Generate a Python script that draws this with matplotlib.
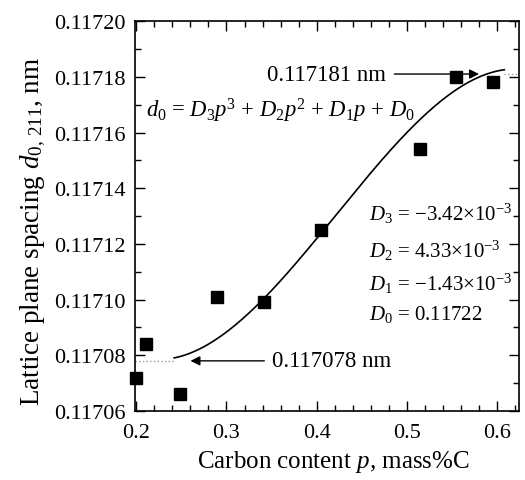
import matplotlib
matplotlib.use('Agg')
import matplotlib.pyplot as plt
import numpy as np

plt.rcParams['font.family'] = ['Liberation Serif', 'DejaVu Serif']
plt.rcParams['mathtext.fontset'] = 'custom'
plt.rcParams['mathtext.rm'] = 'Liberation Serif'
plt.rcParams['mathtext.it'] = 'Liberation Serif:italic'
plt.rcParams['font.size'] = 16

# measured points (carbon content, lattice spacing)
carbon = [0.200, 0.211, 0.248, 0.290, 0.342, 0.405, 0.514, 0.554, 0.595]
spacing = [0.117072, 0.117084, 0.117066, 0.117101, 0.117099,
           0.117125, 0.117154, 0.117180, 0.117178]

# fit coefficients shown on the chart
coefs = [-3.42e-3, 4.33e-3, -1.43e-3, 0.11722]
p_low, p_high = 0.242, 0.608
d_low, d_high = 0.117078, 0.117181

fig = plt.figure(figsize=(5.25, 4.81), dpi=100)
ax = fig.add_axes([0.257, 0.1435, 0.732, 0.8105])

# fitted cubic, solid in the fitted range
p = np.linspace(p_low, p_high, 200)
ax.plot(p, np.polyval(coefs, p), color='k', lw=1.2, zorder=3)
# plateau continuation, dotted
ax.plot([0.1985, p_low], [d_low, d_low], color='#999999', lw=1.0, ls=':')
ax.plot([p_high, 0.6245], [d_high, d_high], color='#999999', lw=1.0, ls=':')

ax.plot(carbon, spacing, 's', color='k', ms=8.5, zorder=4, clip_on=False)

ax.set_xlim(0.1985, 0.6245)
ax.set_ylim(0.11706, 0.11720)
yt = np.arange(0.11706, 0.117201, 0.00002)
ax.set_xticks([0.2, 0.3, 0.4, 0.5, 0.6])
ax.set_xticklabels(['0.2', '0.3', '0.4', '0.5', '0.6'])
ax.set_yticks(yt)
ax.set_yticklabels(['%.5f' % v for v in yt])
ax.set_xticks(np.arange(0.2, 0.625, 0.02), minor=True)
ax.set_yticks(np.arange(0.11706, 0.117201, 0.00001), minor=True)
ax.tick_params(which='both', direction='in', top=True, right=True)
ax.tick_params(which='major', length=7, width=1.0)
ax.tick_params(which='minor', length=4, width=1.0)
ax.tick_params(axis='x', pad=9)
ax.tick_params(axis='y', pad=7)
for s in ax.spines.values():
    s.set_linewidth(1.2)

ax.set_xlabel('Carbon content $p$, mass%C', fontsize=18, va='center')
ax.xaxis.set_label_coords(0.516, -0.128)
ax.set_ylabel('Lattice plane spacing $d_{0,\\,211}$, nm', fontsize=19.5, va='center')
ax.yaxis.set_label_coords(-0.265, 0.464)

ax.text(0.211, 0.117168, '$d_0$ = $D_3p^3$ + $D_2p^2$ + $D_1p$ + $D_0$', va='center', fontsize=16.3)

ax.annotate('', xy=(0.583, d_high), xytext=(0.483, d_high),
            arrowprops=dict(arrowstyle='-|>', color='k', lw=1.0, mutation_scale=14))
ax.text(0.3445, d_high, '0.117181 nm', va='center', fontsize=16.5)

ax.annotate('', xy=(0.257, d_low), xytext=(0.345, d_low),
            arrowprops=dict(arrowstyle='-|>', color='k', lw=1.0, mutation_scale=14))
ax.text(0.350, d_low, '0.117078 nm', va='center', fontsize=16.5)

coef_lines = ['$D_3$ = \u22123.42\u00d710$^{-3}$', '$D_2$ = 4.33\u00d710$^{-3}$',
              '$D_1$ = \u22121.43\u00d710$^{-3}$', '$D_0$ = 0.11722']
coef_y = [0.117131, 0.117118, 0.117106, 0.117095]
for t, yy in zip(coef_lines, coef_y):
    ax.text(0.458, yy, t, va='center', fontsize=15)

fig.savefig('out.png', dpi=100)
